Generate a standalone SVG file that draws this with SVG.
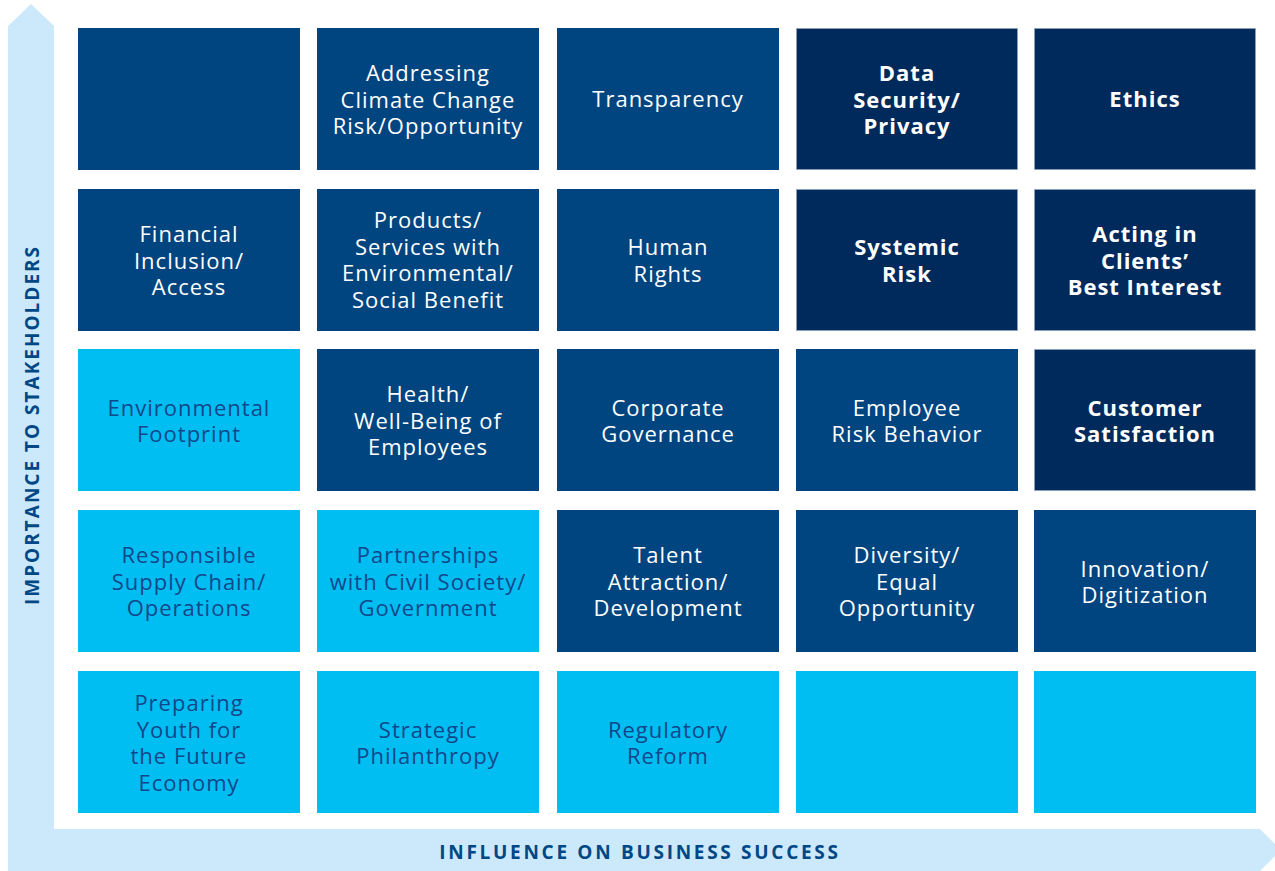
<svg xmlns="http://www.w3.org/2000/svg" width="1275" height="871" viewBox="0 0 1275 871">
<style>
.mid{fill:#004580}
.navy{fill:#002a5c;stroke:#8fa3bc;stroke-width:1;stroke-opacity:0.7}
.cyan{fill:#00bdf2}
text{font-family:"Open Sans","Liberation Sans",sans-serif;font-size:22px;letter-spacing:1px;text-anchor:middle}
.w{fill:#ffffff}
.b{fill:#ffffff;font-weight:700}
.d{fill:#12478a}
.ax{fill:#004785;font-weight:700;font-size:19px}
</style>
<rect width="1275" height="871" fill="#ffffff"/>
<g id="axes">
<polygon points="8,871 8,26 31,4 54,26 54,829 1260,829 1281,850 1260,871" fill="#cbe9fa"/>
<text class="ax" x="640" y="859" style="letter-spacing:2.7px">INFLUENCE ON BUSINESS SUCCESS</text>
<text class="ax" transform="translate(38.5,425) rotate(-90)" style="letter-spacing:2px">IMPORTANCE TO STAKEHOLDERS</text>
</g>
<g id="r1c1"><rect class="mid" x="78" y="28" width="222" height="142"/></g>
<g id="r1c2"><rect class="mid" x="317" y="28" width="222" height="142"/><text class="w" x="428" y="81">Addressing</text><text class="w" x="428" y="107.5">Climate Change</text><text class="w" x="428" y="134">Risk/Opportunity</text></g>
<g id="r1c3"><rect class="mid" x="557" y="28" width="222" height="142"/><text class="w" x="668" y="107">Transparency</text></g>
<g id="r1c4"><rect class="navy" x="796.5" y="28.5" width="221" height="141"/><text class="b" x="907" y="81">Data</text><text class="b" x="907" y="107.5">Security/</text><text class="b" x="907" y="134">Privacy</text></g>
<g id="r1c5"><rect class="navy" x="1034.5" y="28.5" width="221" height="141"/><text class="b" x="1145" y="107">Ethics</text></g>

<g id="r2c1"><rect class="mid" x="78" y="189" width="222" height="142"/><text class="w" x="189" y="242">Financial</text><text class="w" x="189" y="268.5">Inclusion/</text><text class="w" x="189" y="295">Access</text></g>
<g id="r2c2"><rect class="mid" x="317" y="189" width="222" height="142"/><text class="w" x="428" y="228">Products/</text><text class="w" x="428" y="254.5">Services with</text><text class="w" x="428" y="281">Environmental/</text><text class="w" x="428" y="307.5">Social Benefit</text></g>
<g id="r2c3"><rect class="mid" x="557" y="189" width="222" height="142"/><text class="w" x="668" y="255">Human</text><text class="w" x="668" y="281.5">Rights</text></g>
<g id="r2c4"><rect class="navy" x="796.5" y="189.5" width="221" height="141"/><text class="b" x="907" y="255">Systemic</text><text class="b" x="907" y="281.5">Risk</text></g>
<g id="r2c5"><rect class="navy" x="1034.5" y="189.5" width="221" height="141"/><text class="b" x="1145" y="242">Acting in</text><text class="b" x="1145" y="268.5">Clients’</text><text class="b" x="1145" y="295">Best Interest</text></g>

<g id="r3c1"><rect class="cyan" x="78" y="349" width="222" height="142"/><text class="d" x="189" y="416">Environmental</text><text class="d" x="189" y="442">Footprint</text></g>
<g id="r3c2"><rect class="mid" x="317" y="349" width="222" height="142"/><text class="w" x="428" y="402">Health/</text><text class="w" x="428" y="428.5">Well-Being of</text><text class="w" x="428" y="455">Employees</text></g>
<g id="r3c3"><rect class="mid" x="557" y="349" width="222" height="142"/><text class="w" x="668" y="416">Corporate</text><text class="w" x="668" y="442">Governance</text></g>
<g id="r3c4"><rect class="mid" x="796" y="349" width="222" height="142"/><text class="w" x="907" y="416">Employee</text><text class="w" x="907" y="442">Risk Behavior</text></g>
<g id="r3c5"><rect class="navy" x="1034.5" y="349.5" width="221" height="141"/><text class="b" x="1145" y="416">Customer</text><text class="b" x="1145" y="442">Satisfaction</text></g>

<g id="r4c1"><rect class="cyan" x="78" y="510" width="222" height="142"/><text class="d" x="189" y="563">Responsible</text><text class="d" x="189" y="589.5">Supply Chain/</text><text class="d" x="189" y="616">Operations</text></g>
<g id="r4c2"><rect class="cyan" x="317" y="510" width="222" height="142"/><text class="d" x="428" y="563">Partnerships</text><text class="d" x="428" y="589.5">with Civil Society/</text><text class="d" x="428" y="616">Government</text></g>
<g id="r4c3"><rect class="mid" x="557" y="510" width="222" height="142"/><text class="w" x="668" y="563">Talent</text><text class="w" x="668" y="589.5">Attraction/</text><text class="w" x="668" y="616">Development</text></g>
<g id="r4c4"><rect class="mid" x="796" y="510" width="222" height="142"/><text class="w" x="907" y="563">Diversity/</text><text class="w" x="907" y="589.5">Equal</text><text class="w" x="907" y="616">Opportunity</text></g>
<g id="r4c5"><rect class="mid" x="1034" y="510" width="222" height="142"/><text class="w" x="1145" y="577">Innovation/</text><text class="w" x="1145" y="603">Digitization</text></g>

<g id="r5c1"><rect class="cyan" x="78" y="671" width="222" height="142"/><text class="d" x="189" y="711">Preparing</text><text class="d" x="189" y="737.5">Youth for</text><text class="d" x="189" y="764">the Future</text><text class="d" x="189" y="790.5">Economy</text></g>
<g id="r5c2"><rect class="cyan" x="317" y="671" width="222" height="142"/><text class="d" x="428" y="738">Strategic</text><text class="d" x="428" y="764">Philanthropy</text></g>
<g id="r5c3"><rect class="cyan" x="557" y="671" width="222" height="142"/><text class="d" x="668" y="738">Regulatory</text><text class="d" x="668" y="764">Reform</text></g>
<g id="r5c4"><rect class="cyan" x="796" y="671" width="222" height="142"/></g>
<g id="r5c5"><rect class="cyan" x="1034" y="671" width="222" height="142"/></g>
<g id="connectors"/>
</svg>
